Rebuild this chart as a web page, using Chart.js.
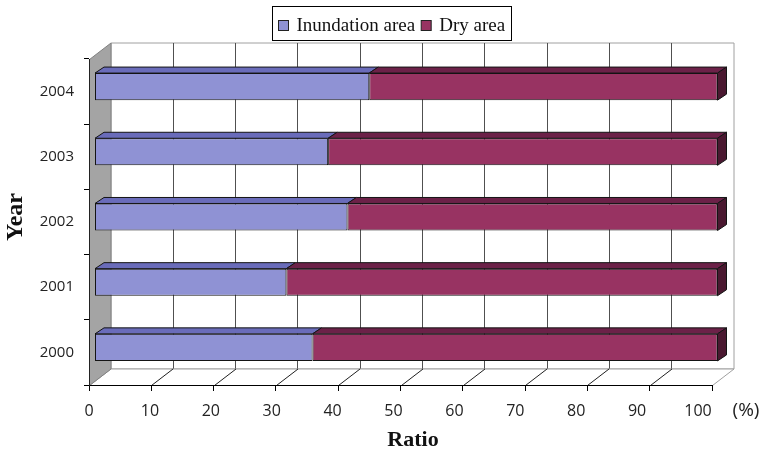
<!DOCTYPE html>
<html>
<head>
<meta charset="utf-8">
<script src="https://cdn.jsdelivr.net/npm/chart.js@4/dist/chart.umd.min.js"></script>
<style>
  html, body { margin: 0; padding: 0; background: #fff; }
  #wrap { width: 762px; height: 452px; }
</style>
</head>
<body>
<div id="wrap"><canvas id="c" width="762" height="452"></canvas></div>
<script>
// Share of flooded vs. dry land per year (%)
const years = ['2000', '2001', '2002', '2003', '2004'];
const inundationArea = [35.0, 30.8, 40.6, 37.5, 44.1];
const dryArea = [65.0, 69.2, 59.4, 62.5, 55.9];
const seriesNames = ['Inundation area', 'Dry area'];
const ratioMin = 0, ratioMax = 100, ratioStep = 10;
// the ratio labels sit on a slightly foreshortened copy of the axis
const labelAxisMax = 102.3;

const FRONT = ['#8f92d4', '#983362'];
const TOP = ['#6a6cba', '#6c2148'];
const SIDE = ['#55579e', '#4a1830'];

// pseudo-3D geometry (pixels)
const WALL = { dx: 21.5, dy: 16.5 };   // depth of the plot box
const SHIFT = { dx: 5.5, dy: -5 };     // bars sit slightly behind the front plane
const BAR = { dx: 9, dy: 6 };          // depth of each bar

const serif = '"Liberation Serif", "Times New Roman", serif';
const sans = '"Open Sans", "Noto Sans", sans-serif';

function line(ctx, x1, y1, x2, y2) {
  ctx.beginPath(); ctx.moveTo(x1, y1); ctx.lineTo(x2, y2); ctx.stroke();
}
function poly(ctx, pts, fill, stroke) {
  ctx.beginPath();
  ctx.moveTo(pts[0][0], pts[0][1]);
  for (let i = 1; i < pts.length; i++) ctx.lineTo(pts[i][0], pts[i][1]);
  ctx.closePath();
  if (fill) { ctx.fillStyle = fill; ctx.fill(); }
  if (stroke) { ctx.strokeStyle = stroke; ctx.stroke(); }
}

const box3d = {
  id: 'box3d',
  beforeDraw(chart) {
    const { ctx, chartArea: a, scales } = chart;
    const xs = scales.x;
    const L = Math.round(a.left) + 0.5, R = Math.round(a.right) + 0.5;
    const T = Math.round(a.top) + 0.5, B = Math.round(a.bottom) + 0.5;
    const bL = L + WALL.dx, bR = R + WALL.dx, bT = T - WALL.dy, bB = B - WALL.dy;
    ctx.save();
    ctx.lineWidth = 1;
    // back wall
    poly(ctx, [[bL, bT], [bR, bT], [bR, bB], [bL, bB]], '#ffffff', '#a0a0a0');
    // back wall gridlines
    ctx.strokeStyle = '#505050';
    for (let v = ratioMin + ratioStep; v < ratioMax; v += ratioStep) {
      const x = Math.round(xs.getPixelForValue(v) + WALL.dx) + 0.5;
      line(ctx, x, bT, x, bB);
    }
    // floor
    poly(ctx, [[L, B], [R, B], [bR, bB], [bL, bB]], '#ffffff', '#a0a0a0');
    ctx.strokeStyle = '#202020';
    for (let v = ratioMin + ratioStep; v < ratioMax; v += ratioStep) {
      const x = Math.round(xs.getPixelForValue(v)) + 0.5;
      line(ctx, x, B, x + WALL.dx, bB);
    }
    // side wall
    poly(ctx, [[L, T], [bL, bT], [bL, bB], [L, B]], '#a4a4a4', '#808080');
    ctx.restore();
  },
  beforeDatasetsDraw(chart) {
    chart.ctx.save();
    chart.ctx.translate(SHIFT.dx, SHIFT.dy);
  },
  afterDatasetsDraw(chart) {
    const ctx = chart.ctx;
    ctx.lineWidth = 1;
    const n = chart.data.datasets.length;
    for (let d = 0; d < n; d++) {
      const meta = chart.getDatasetMeta(d);
      meta.data.forEach(bar => {
        const p = bar.getProps(['x', 'y', 'base', 'height'], true);
        const x0 = Math.min(p.base, p.x), x1 = Math.max(p.base, p.x);
        const top = p.y - p.height / 2, bot = p.y + p.height / 2;
        poly(ctx, [[x0, top], [x1, top], [x1 + BAR.dx, top - BAR.dy], [x0 + BAR.dx, top - BAR.dy]], TOP[d], '#141414');
        if (d === n - 1) {
          poly(ctx, [[x1, top], [x1 + BAR.dx, top - BAR.dy], [x1 + BAR.dx, bot - BAR.dy], [x1, bot]], SIDE[d], '#141414');
        }
      });
    }
    ctx.restore();
  },
  afterDraw(chart) {
    const { ctx } = chart;
    ctx.save();
    // axis titles
    ctx.fillStyle = '#111';
    ctx.textAlign = 'center';
    ctx.textBaseline = 'middle';
    ctx.font = 'bold 22px ' + serif;
    ctx.fillText('Ratio', 413, 440);
    ctx.save();
    ctx.translate(16, 217);
    ctx.rotate(-Math.PI / 2);
    ctx.font = 'bold 24px ' + serif;
    ctx.fillText('Year', 0, 0);
    ctx.restore();
    ctx.font = '19px ' + sans;
    ctx.fillStyle = '#222';
    ctx.fillText('(%)', 746, 411);

    // legend
    ctx.lineWidth = 1;
    ctx.fillStyle = '#fff';
    ctx.fillRect(272.5, 6.5, 239, 34);
    ctx.strokeStyle = '#000';
    ctx.strokeRect(272.5, 6.5, 239, 34);
    ctx.font = '19px ' + serif;
    ctx.textAlign = 'left';
    ctx.textBaseline = 'alphabetic';
    let x = 278.5;
    chart.data.datasets.forEach((ds, i) => {
      ctx.fillStyle = FRONT[i];
      ctx.fillRect(x, 20.5, 10, 10);
      ctx.strokeStyle = '#222';
      ctx.strokeRect(x, 20.5, 10, 10);
      ctx.fillStyle = '#111';
      ctx.fillText(ds.label, x + 18, 31);
      x += 18 + ctx.measureText(ds.label).width + 6;
    });
    ctx.restore();
  }
};

new Chart(document.getElementById('c'), {
  type: 'bar',
  data: {
    labels: years,
    datasets: [
      { label: seriesNames[0], data: inundationArea, backgroundColor: FRONT[0] },
      { label: seriesNames[1], data: dryArea, backgroundColor: FRONT[1] }
    ]
  },
  options: {
    indexAxis: 'y',
    responsive: false,
    animation: false,
    layout: { padding: { left: 0, top: 59, right: 50, bottom: 0 } },
    datasets: {
      bar: {
        borderColor: '#141414',
        borderWidth: 1,
        borderSkipped: false,
        categoryPercentage: 1,
        barPercentage: 0.415,
        clip: false
      }
    },
    plugins: { legend: { display: false }, tooltip: { enabled: false } },
    scales: {
      x: {
        stacked: true,
        min: ratioMin,
        max: ratioMax,
        ticks: { stepSize: ratioStep, display: false },
        grid: { drawOnChartArea: false, color: '#000', tickLength: 6 },
        border: { display: true, color: '#000' },
        afterFit(s) { s.height = 7; }
      },
      xLabels: {
        type: 'linear',
        axis: 'x',
        position: 'bottom',
        min: ratioMin,
        max: labelAxisMax,
        ticks: {
          stepSize: ratioStep, includeBounds: false, color: '#222',
          font: { family: sans, size: 16 }, padding: 10, maxRotation: 0
        },
        grid: { display: false, drawTicks: false },
        border: { display: false },
        afterFit(s) { s.height = 452 - 385 - 7; }
      },
      y: {
        stacked: true,
        reverse: true,
        ticks: { color: '#222', font: { family: sans, size: 15 }, padding: 10 },
        grid: { drawOnChartArea: false, color: '#000', tickLength: 5 },
        border: { display: true, color: '#222' },
        afterFit(s) { s.width = 89; }
      }
    }
  },
  plugins: [box3d]
});
</script>
</body>
</html>
